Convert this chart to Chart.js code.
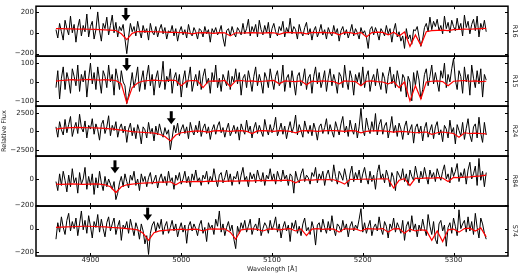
<!DOCTYPE html>
<html>
<head>
<meta charset="utf-8">
<script src="https://cdn.jsdelivr.net/npm/chart.js@4.4.1/dist/chart.umd.min.js"></script>
<style>
  html, body { margin: 0; padding: 0; background: #fff; }
  #wrap { width: 520px; height: 275px; }
</style>
</head>
<body>
<div id="wrap"><canvas id="specChart" width="520" height="275"></canvas></div>
<script>
const panelNames = ['R16', 'R15', 'R24', 'R84', 'S74'];
const xTicks = [4900, 5000, 5100, 5200, 5300];
const yTicks = [[200, 0, -200], [100, 0, -100], [2500, 0, -2500], [0, -200], [0, -200]];
const yLimits = [[-224, 255], [-128, 137], [-3350, 3400], [-210, 178], [-233, 192]];
const arrowWave = [4939, 4940, 4989, 4927, 4963];
const arrowTip = [114, 58, 955, 44, 68];

// observed spectra: 4862 Å onwards, one value every 2 Å
const fluxStart = 4862, fluxStep = 2;
// model spectra: 4862 Å onwards, one value every 6 Å
const modelStart = 4862, modelStep = 6;

const fluxR16 = [
  30, -50, 90, 10, -70, 120, 40, -20, 160, 0,
  80, -90, 50, 130, -30, 70, 10, 180, -40, 60,
  110, -60, 30, 200, 20, -80, 90, 40, 150, -20,
  70, 170, 0, 100, -40, 60, 20, 80, -60, -200,
  -40, 90, 10, 60, -30, 110, 20, -50, 70, 0,
  40, -70, 90, 10, -20, 60, -40, 30, 80, -10,
  50, -60, 20, 0, 70, -30, 40, -80, 10, 60,
  -20, 30, -50, 80, 0, -30, 50, 10, -60, 40,
  20, -40, 60, -10, 30, -90, 40, 0, 50, -20,
  10, 70, -50, -130, 20, 40, -30, 60, 0, -40,
  50, 20, -20, 90, -10, 40, 130, -30, 60, 10,
  80, -40, 120, 30, -20, 70, 0, 100, -50, 40,
  90, 10, -30, 60, 20, 110, -40, 50, 0, 140,
  -10, 60, 30, -60, 80, 10, -30, 50, 100, -20,
  40, -70, 20, 60, -40, 10, 80, -20, 30, -60,
  50, 0, -30, 70, -10, 40, -80, 20, 60, -20,
  30, -50, 10, 80, -30, 40, 0, -60, 50, -10,
  20, -40, -150, 30, 60, -20, 50, 0, -70, 40,
  10, -30, 70, -10, 40, -90, 20, 90, -40, 10,
  -80, -30, -150, 40, -60, -20, -110, 30, 20, 60,
  -40, -130, -60, 50, 90, 10, 150, 30, 110, 60,
  130, 20, 70, -10, 160, 40, 100, 0, 120, 60,
  20, 140, 30, 90, -30, 170, 50, 110, -10, 80,
  130, 20, 160, -40, 90, 30, 120, 10
];
const fluxR15 = [
  -30, 60, -90, 20, 80, -40, 50, 10, -60, 70,
  30, -20, 90, -50, 40, 0, 60, -80, 20, 100,
  -10, 50, -40, 80, 10, -60, 60, 30, -30, 90,
  0, 40, -70, 70, 20, -40, 60, 0, -20, -115,
  -70, -20, 50, -30, 20, 80, -50, 10, 60, -40,
  30, 90, -20, 40, -70, 20, 60, -30, 10, 110,
  -40, 30, 0, 70, -60, 20, 50, -20, 40, -80,
  10, 60, -30, 20, 80, -50, 0, 40, -20, 60,
  -40, 30, 70, -10, 20, -60, 50, 0, 90, -30,
  20, -50, 40, 10, -20, 60, -40, 30, 0, 70,
  -10, 50, -70, 20, 40, -30, 60, 10, -50, 30,
  80, -20, 40, 0, -60, 50, 20, -30, 70, 10,
  -40, 30, 60, -20, 0, 90, -50, 20, 40, -30,
  60, 0, -70, 30, 50, -20, 10, 70, -40, 20,
  40, -60, 30, 80, -10, 50, -30, 10, 60, -50,
  20, 70, -20, 40, 0, -60, 50, 30, -30, 90,
  10, -40, 60, 20, -70, 40, 0, 50, -20, 80,
  -30, 30, 60, -50, 10, 40, -20, 70, 0, -40,
  50, 20, -60, 30, 80, -10, 40, -30, 60, 10,
  -50, 40, 20, -80, 30, 0, -100, 50, -20, 60,
  10, -90, -40, 40, 70, -20, 30, 90, -10, 50,
  0, -50, 60, 20, 100, -30, 40, 0, 70, 125,
  10, -40, 60, 30, -60, 80, 0, 40, -70, 90,
  20, -30, 60, -10, 70, -80, 40, 10
];
const fluxR24 = [
  600, -800, 1300, 200, -500, 1600, -200, 900, 2000, -700,
  400, 1200, -300, 2300, 500, -100, 1400, -900, 800, 300,
  1700, -400, 1000, 200, -1200, 900, 1500, -300, 600, 2100,
  -600, 800, 100, 1300, -800, 400, 1000, -200, 700, -1500,
  300, 1100, -600, 500, -1000, 900, 0, -1700, 600, 200,
  -900, 1200, -300, 400, -1300, 700, -500, 1000, -100, -800,
  500, -400, 200, -2500, -900, 800, -200, 1100, -600, 300,
  900, -300, 600, -1000, 1200, 100, -500, 800, -200, 1400,
  -700, 400, 1000, -300, 600, -1100, 200, 900, -400, 700,
  1300, -200, 500, -800, 300, 1100, -600, 0, 800, -300,
  600, -1200, 1000, 200, -400, 1500, -100, 700, -900, 400,
  1200, -300, 800, 0, -700, 1600, 300, -500, 900, -200,
  500, 1900, -600, 200, 1100, -400, 700, -1000, 300, 1300,
  -200, 600, 2200, -500, 900, 100, -800, 1400, 300, -300,
  800, -600, 1100, 200, -1200, 600, 1000, -300, 500, 1700,
  -400, 900, 0, -800, 1300, 400, -500, 1000, 2000, -200,
  700, -700, 1500, 300, -400, 1100, -900, 600, 3100, 200,
  -600, 1800, 500, -300, 1300, 0, 2400, -500, 900, 1600,
  -400, 700, 1200, -900, 400, 2000, -200, 800, -700, 1100,
  300, -1100, 600, 1400, -500, 200, 900, -1600, 500, 1000,
  -300, 700, -1300, 400, 1200, -800, 100, 900, -1000, 600,
  1300, -500, 200, -1400, 800, 300, -900, 1500, -200, 500,
  -1700, 900, 100, -600, 1200, -1100, 400, 1700, -500, -1400,
  600, 1000, -900, 1900, -300, -1500, 1200, -500
];
const fluxR84 = [
  -20, -90, 40, -50, 60, -10, -100, 30, -60, 80,
  -30, 10, -110, 50, -40, 0, 90, -80, 20, -50,
  40, -120, 10, -70, 60, -30, -90, 20, -60, 0,
  -40, -80, -20, -160, -110, -30, 20, -60, 40, -20,
  -70, 30, -10, 60, -50, 0, -90, 40, -20, 20,
  -60, 10, 50, -40, -10, 30, -70, 0, 40, -30,
  20, -50, 60, -20, 10, -80, 30, -10, 50, -40,
  0, 60, -30, 20, -60, 40, -10, 70, -20, 10,
  -50, 30, 0, 60, -40, 20, -20, 80, 0, -60,
  30, 50, -30, 10, 70, -20, 40, -50, 20, 0,
  60, -40, 30, 90, -10, 20, -60, 50, 0, 40,
  -30, 70, 10, -20, 50, -50, 30, 0, 80, -10,
  40, -40, 60, 10, -20, 70, 0, 30, -50, 40,
  20, -110, 60, 0, -30, 40, 80, -20, 30, 10,
  -40, 50, 20, 90, -30, 40, 0, 60, -50, 30,
  70, 0, -20, 110, 20, -40, 60, 30, -10, 80,
  10, -60, 40, 100, -20, 50, 0, 70, -30, 40,
  90, 10, -40, 60, -20, 30, -80, 50, 110, 0,
  40, -30, 70, 20, -60, 50, 10, -90, 60, 30,
  0, 80, -20, 40, -50, 70, 20, -10, 100, 30,
  -30, 60, 0, 90, 20, -40, 70, 10, 50, -20,
  80, 30, -10, 60, 110, 0, 40, -30, 90, 20,
  60, 120, -20, 50, 10, 80, -40, 70, 130, 0,
  40, 100, -50, 160, -10, 60, -60, 50
];
const fluxS74 = [
  -90, 50, -30, 100, 10, -50, 70, 130, -20, 60,
  0, 90, -60, 40, 150, -10, 70, -40, 110, 20,
  -80, 60, 10, 120, -30, 80, 0, -70, 50, 100,
  -20, 40, 90, -50, 20, 70, -100, 30, 0, 60,
  -40, 80, 10, -60, 50, 0, -90, 40, -20, -130,
  -60, -220, -40, 30, 60, -30, 50, 0, 80, -50,
  20, 60, -40, 10, 70, -20, 40, -70, 0, 50,
  -30, 30, -125, 20, 60, -20, 40, 0, -60, 30,
  70, -40, 10, -110, 50, 0, 30, -50, 80, 20,
  150, -30, 40, -60, 10, 60, -20, 30, -90, -170,
  20, -40, 50, 0, 70, -30, 20, 80, -50, 10,
  40, -20, 90, -60, 0, 50, 20, -40, 70, -10,
  30, 100, -30, 40, -80, 10, 60, -20, 30, -110,
  50, 0, 70, -40, 20, -60, 40, 90, -20, 10,
  -50, 60, 0, -140, 30, 50, -30, 80, 10, -40,
  60, -20, 110, 0, -60, 40, 20, -30, 70, -10,
  40, -70, 20, 60, -20, 30, 0, 80, 170, -30,
  50, -40, 20, 70, -60, 10, 40, -20, 100, 0,
  -50, 60, 20, -80, 40, 0, 90, -30, 50, 10,
  -40, 70, -100, 20, 60, -30, 110, -10, 40, -70,
  30, -20, 80, 0, -60, 120, 20, -50, 60, -90,
  -130, 40, 70, -20, 30, -150, 10, 50, -40, 90,
  20, -60, 160, 0, 40, 70, -30, 100, -20, 60,
  -50, 130, 10, -80, 90, 40, -40, -90
];

const modelR16 = [
  40, 40, 38, 38, 36, 35, 34, 32, 30, 28,
  26, 22, -10, -65, -5, 12, 14, 12, 10, 8,
  6, 5, 4, 2, 0, -10, 0, 2, 0, -5,
  2, 0, -30, 0, -2, 0, 2, 0, -4, 2,
  0, -15, 2, 4, 0, 2, -10, 4, 2, 4,
  0, 2, -20, 4, 2, -10, 4, -40, 2, 6,
  4, -20, 6, -30, 8, -130, -20, -120, 10, 20,
  24, 26, 20, 30, 32, 35, 34, 38, 40, 42
];
const modelR15 = [
  5, 8, 10, 12, 10, 12, 14, 12, 10, 12,
  10, 8, -10, -110, -30, -5, 5, 8, 10, 8,
  6, 10, 8, -20, 5, 8, 6, -30, 4, 6,
  5, 8, -25, 6, 8, 4, 6, 2, 4, 6,
  8, -10, 6, 4, 2, 6, -15, 4, 2, 6,
  4, 2, -10, 6, 4, 2, -20, 4, 6, 2,
  0, -10, 2, -30, 0, -100, -20, -90, 0, 4,
  6, 2, -20, 4, 6, 8, 4, 6, 2, 4
];
const modelR24 = [
  300, 400, 450, 500, 520, 500, 480, 450, 420, 380,
  320, 250, 150, 50, -50, -100, -150, -200, -250, -400,
  -700, -1300, -500, -200, -100, 0, 50, 0, -100, 50,
  100, 50, 0, 50, 100, 0, -300, 50, 100, 50,
  0, 100, 50, 0, -200, 50, 100, 50, 0, 50,
  100, 100, 50, 0, 100, 50, -200, 0, 50, 100,
  50, 0, -100, 0, -50, -100, -200, -150, -100, -400,
  -200, -100, -200, -300, -800, -200, -300, -250, -300, -350
];
const modelR84 = [
  -40, -42, -40, -38, -40, -42, -40, -38, -40, -45,
  -60, -105, -60, -45, -40, -35, -32, -30, -28, -25,
  -25, -22, -45, -20, -22, -20, -18, -20, -16, -18,
  -15, -18, -14, -16, -14, -12, -15, -12, -10, -12,
  -10, -12, -8, -10, -30, -8, -6, -8, -5, -6,
  -4, -6, -20, -40, -2, -4, -2, 0, -4, 0,
  2, 0, -70, -10, 2, -50, 6, 4, 8, 6,
  10, 8, -20, 12, 10, 14, 16, 20, 24, 30
];
const modelS74 = [
  10, 12, 14, 16, 18, 20, 20, 18, 16, 14,
  10, 8, 4, 0, -5, -10, -40, -100, -35, -20,
  -15, -10, -8, -5, -10, -4, -6, -20, -4, -2,
  -5, -2, -30, -90, -10, -4, -2, -6, -20, -4,
  -2, -10, -4, 0, -20, -2, -60, -4, 0, -6,
  -2, -4, -30, 0, -4, -2, -20, 0, -2, -4,
  0, -30, -2, 0, -40, -4, -20, -10, -15, -100,
  -20, -110, -10, -4, -30, 0, 4, -20, 6, -70
];

const fluxSets = [fluxR16, fluxR15, fluxR24, fluxR84, fluxS74];
const modelSets = [modelR16, modelR15, modelR24, modelR84, modelS74];

const tickFont = { family: 'DejaVu Sans', size: 7 };
const titleFont = { family: 'DejaVu Sans', size: 6.5 };
const textColor = '#222';

function toPoints(values, start, step) {
  return values.map((v, i) => ({ x: start + i * step, y: v }));
}

function minusSign(v) {
  return String(v).replace('-', '\u2212');
}

const datasets = [];
panelNames.forEach((name, p) => {
  datasets.push({
    label: name + ' model',
    data: toPoints(modelSets[p], modelStart, modelStep),
    yAxisID: 'y' + p,
    borderColor: '#ff0000',
    borderWidth: 1.2,
    pointRadius: 0,
    tension: 0,
    order: 0
  });
  datasets.push({
    label: name,
    data: toPoints(fluxSets[p], fluxStart, fluxStep),
    yAxisID: 'y' + p,
    borderColor: '#000000',
    borderWidth: 1,
    pointRadius: 0,
    tension: 0,
    order: 1
  });
});

const scales = {
  x: {
    type: 'linear',
    position: 'bottom',
    min: 4840,
    max: 5360,
    grid: { display: false, drawTicks: false },
    border: { display: false },
    afterBuildTicks: s => { s.ticks = xTicks.map(v => ({ value: v })); },
    afterFit: s => { s.height = 19; },
    ticks: { font: tickFont, color: textColor, padding: 0, maxRotation: 0, callback: v => String(v) },
    title: {
      display: true,
      text: 'Wavelength [Å]',
      font: titleFont,
      color: textColor,
      padding: { top: 0, bottom: 2 }
    }
  }
};

panelNames.forEach((name, p) => {
  scales['y' + p] = {
    type: 'linear',
    position: 'left',
    stack: 'panels',
    stackWeight: 1,
    weight: 10 - p,
    min: yLimits[p][0],
    max: yLimits[p][1],
    grid: { display: false, drawTicks: false },
    border: { display: false },
    afterBuildTicks: s => { s.ticks = yTicks[p].map(v => ({ value: v })); },
    afterFit: s => { s.width = 36; },
    ticks: { font: tickFont, color: textColor, padding: 2, callback: v => minusSign(v) },
    title: {
      display: p === 2,
      text: 'Relative Flux',
      font: titleFont,
      color: textColor,
      padding: 0
    }
  };
});

// panel frames, inward ticks, arrows and star names
const panelDecor = {
  id: 'panelDecor',
  afterDatasetsDraw(chart) {
    const { ctx, chartArea } = chart;
    const xs = chart.scales.x;
    const left = chartArea.left, right = chartArea.right;
    ctx.save();
    panelNames.forEach((name, p) => {
      const ys = chart.scales['y' + p];
      const top = ys.top, bottom = ys.bottom;

      ctx.strokeStyle = '#000';
      ctx.lineWidth = 1;
      ctx.beginPath();
      xTicks.forEach(v => {
        const px = Math.round(xs.getPixelForValue(v)) + 0.5;
        ctx.moveTo(px, top); ctx.lineTo(px, top + 3);
        ctx.moveTo(px, bottom); ctx.lineTo(px, bottom - 3);
      });
      yTicks[p].forEach(v => {
        const py = Math.round(ys.getPixelForValue(v)) + 0.5;
        ctx.moveTo(left, py); ctx.lineTo(left + 3, py);
        ctx.moveTo(right, py); ctx.lineTo(right - 3, py);
      });
      ctx.stroke();

      ctx.lineWidth = 1.5;
      ctx.strokeRect(left, top, right - left, bottom - top);

      const ax = xs.getPixelForValue(arrowWave[p]);
      const tip = ys.getPixelForValue(arrowTip[p]);
      ctx.fillStyle = '#000';
      ctx.fillRect(ax - 1.5, tip - 13, 3, 8);
      ctx.beginPath();
      ctx.moveTo(ax - 4.5, tip - 6);
      ctx.lineTo(ax + 4.5, tip - 6);
      ctx.lineTo(ax, tip);
      ctx.closePath();
      ctx.fill();

      ctx.save();
      ctx.translate(right + 7, (top + bottom) / 2);
      ctx.rotate(Math.PI / 2);
      ctx.font = '6.5px "DejaVu Sans"';
      ctx.fillStyle = textColor;
      ctx.textAlign = 'center';
      ctx.textBaseline = 'middle';
      ctx.fillText(name, 0, 0);
      ctx.restore();
    });
    ctx.restore();
  }
};

new Chart(document.getElementById('specChart').getContext('2d'), {
  type: 'line',
  data: { datasets },
  options: {
    responsive: false,
    animation: false,
    layout: { padding: { left: 0, right: 12, top: 2, bottom: 0 } },
    plugins: { legend: { display: false }, tooltip: { enabled: false } },
    scales
  },
  plugins: [panelDecor]
});
</script>
</body>
</html>
